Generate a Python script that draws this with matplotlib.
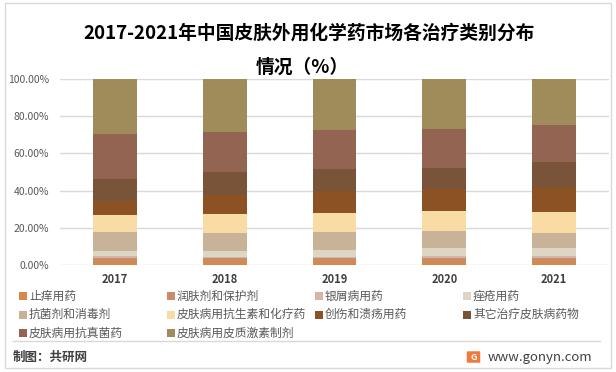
import matplotlib.pyplot as plt
from matplotlib.patches import Rectangle, FancyBboxPatch
from matplotlib.lines import Line2D
import numpy as np

plt.rcParams['font.family'] = ['Noto Sans CJK SC', 'DejaVu Sans']

years = ['2017', '2018', '2019', '2020', '2021']
categories = ['止痒用药', '润肤剂和保护剂', '银屑病用药', '痤疮用药',
              '抗菌剂和消毒剂', '皮肤病用抗生素和化疗药', '创伤和溃疡用药', '其它治疗皮肤病药物',
              '皮肤病用抗真菌药', '皮肤病用皮质激素制剂']
colors = ['#D5894B', '#C48D6E', '#D6B4A6', '#DED6C4', '#C8B398',
          '#F8DBA5', '#8C5224', '#7A5439', '#936452', '#A08B5A']

# share (%) per category, one value per year
zhiyang = [2.3, 2.2, 2.3, 2.3, 2.3]
runfu = [1.5, 1.3, 1.5, 1.6, 1.6]
yinxie = [1.2, 1.0, 0.7, 1.0, 1.0]
cuochuang = [2.7, 3.0, 3.6, 4.3, 4.3]
kangjun = [10.2, 9.7, 9.7, 9.1, 8.1]
kangshengsu = [9.1, 10.2, 10.2, 10.8, 11.3]
chuangshang = [7.5, 10.2, 11.8, 11.5, 12.9]
qita = [11.8, 12.4, 11.8, 11.6, 14.0]
kangzhenjun = [24.2, 21.5, 21.0, 21.0, 19.9]
pizhi = [29.5, 28.5, 27.4, 26.8, 24.6]
series = [zhiyang, runfu, yinxie, cuochuang, kangjun,
          kangshengsu, chuangshang, qita, kangzhenjun, pizhi]

W, H = 616, 372
def fx(x): return x / W
def fy(y): return 1 - y / H

fig = plt.figure(figsize=(6.16, 3.72), dpi=100)
fig.patch.set_facecolor('white')
fig.patches.append(Rectangle((fx(5), fy(368)), fx(606), 365 / H, transform=fig.transFigure,
                             fill=False, edgecolor='#d9d9d9', linewidth=1))

ax = fig.add_axes([fx(60), fy(265), fx(549), 186 / H])
x = np.arange(len(years))
bottom = np.zeros(len(years))
for vals, c in zip(series, colors):
    ax.bar(x, vals, 0.4, bottom=bottom, color=c, zorder=2)
    bottom += np.array(vals)

ax.set_xlim(-0.5, 4.5)
ax.set_ylim(0, 100)
ax.set_yticks(range(0, 101, 20))
ax.set_yticklabels(['%.2f%%' % v for v in range(0, 101, 20)], fontsize=7.5, color='#595959')
ax.set_xticks(x)
ax.set_xticklabels(years, fontsize=8, fontweight='bold', color='#404040')
ax.tick_params(length=0)
ax.tick_params(axis='y', pad=8)
ax.tick_params(axis='x', pad=6)
ax.grid(axis='y', color='#d9d9d9', linewidth=1, zorder=0)
for s in ax.spines.values():
    s.set_visible(False)

fig.text(fx(309), fy(33), '2017-2021年中国皮肤外用化学药市场各治疗类别分布', ha='center', va='center',
         fontsize=13.5, fontweight='bold', color='#000000')
fig.text(fx(302), fy(67), '情况（%）', ha='center', va='center',
         fontsize=13.5, fontweight='bold', color='#000000')

# legend, row by row
for i, (name, c) in enumerate(zip(categories, colors)):
    row, col = divmod(i, 4)
    lx = 19 + 148 * col
    ly = 296 + 18.5 * row
    fig.patches.append(Rectangle((fx(lx), fy(ly + 4)), fx(8), 8 / H, transform=fig.transFigure,
                                 facecolor=c, edgecolor='none'))
    fig.text(fx(lx + 10), fy(ly), name, ha='left', va='center', fontsize=8.5, color='#595959')

fig.add_artist(Line2D([fx(13), fx(600)], [fy(341), fy(341)], color='#d9d9d9', linewidth=1))
fig.text(fx(13), fy(357), '制图：共研网', ha='left', va='center', fontsize=9,
         fontweight='bold', color='#404040')
fig.patches.append(FancyBboxPatch((fx(468), fy(362)), fx(11), 10 / H, transform=fig.transFigure,
                                  boxstyle='round,pad=0.002', facecolor='#F07A3A', edgecolor='none'))
fig.text(fx(473.5), fy(357), 'G', ha='center', va='center', fontsize=6.5, fontweight='bold', color='white')
fig.text(fx(488), fy(357), 'www.gonyn.com', ha='left', va='center', fontsize=9.5, color='#404040')

fig.savefig('out.png', dpi=100)
